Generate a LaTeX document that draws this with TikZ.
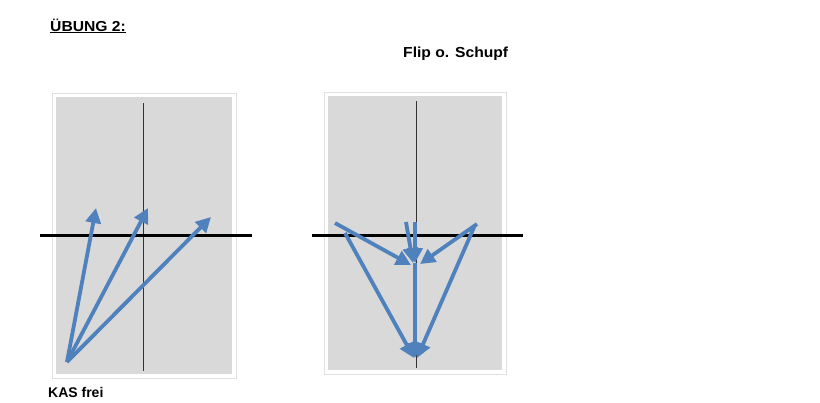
\documentclass[tikz,border=0pt]{standalone}
\usepackage{fontspec}
\setmainfont{Liberation Sans}
\usetikzlibrary{arrows.meta,shadows}
\definecolor{arrowblue}{RGB}{79,129,189}
\definecolor{panelgray}{RGB}{217,217,217}
\tikzset{
  frame/.style={fill=white, draw=black!12, line width=0.6bp, drop shadow={opacity=0.3, shadow xshift=1bp, shadow yshift=-1.2bp}},
  panel/.style={fill=panelgray, draw=none},
  axis/.style={draw=black!80, line width=0.6bp},
  level/.style={draw=black, line width=3bp},
  vec/.style={draw=arrowblue, line width=3.8bp, -{Triangle[length=15bp,width=15bp]}},
  label/.style={font=\bfseries\fontsize{14.5bp}{17bp}\selectfont, anchor=base west, inner sep=0pt}
}
\begin{document}
\begin{tikzpicture}[x=1bp,y=-1bp]
\useasboundingbox (0,0) rectangle (820,402);
% titles
\node[label, xscale=1.08] (title) at (50,31) {\underline{ÜBUNG 2:}};
\node[label, xscale=1.08] (flip) at (403,57) {Flip o. Schupf};
\node[label, font=\bfseries\fontsize{14bp}{17bp}\selectfont] (kas) at (48,397) {KAS frei};
% left panel
\path[frame] (52,93) rectangle (236,378);
\path[panel] (56,97) rectangle (232,374);
\coordinate (lvt) at (143,103); \coordinate (lvb) at (143,371);
\draw[axis] (lvt) -- (lvb);
\coordinate (lhl) at (40,235); \coordinate (lhr) at (252,235);
\draw[level] (lhl) -- (lhr);
\coordinate (lo) at (67,362);
\coordinate (lt1) at (96,208);
\coordinate (lt2) at (148,208);
\coordinate (lt3) at (211,217);
\draw[vec] (lo) -- (lt1);
\draw[vec] (lo) -- (lt2);
\draw[vec] (lo) -- (lt3);
% right panel
\path[frame] (324,92) rectangle (506,374);
\path[panel] (328,96) rectangle (502,370);
\coordinate (rvt) at (416,101); \coordinate (rvb) at (416,368);
\draw[axis] (rvt) -- (rvb);
\coordinate (rhl) at (312,235); \coordinate (rhr) at (523,235);
\draw[level] (rhl) -- (rhr);
\coordinate (rs1) at (335,223);
\coordinate (rs2) at (477,224);
\coordinate (rs3) at (406,222);
\coordinate (rs4) at (415,222);
\coordinate (rs6) at (345,233);
\coordinate (rs7) at (475,225);
\coordinate (rm1) at (411,265);
\coordinate (rm2) at (420,264);
\coordinate (rm3) at (413,263);
\coordinate (rm4) at (415,263);
\coordinate (rb) at (415,358);
\coordinate (rb1) at (414,358);
\coordinate (rb2) at (417,358);
\draw[vec] (rs1) -- (rm1);
\draw[vec] (rs2) -- (rm2);
\draw[vec] (rs3) -- (rm3);
\draw[vec] (rs4) -- (rm4);
\draw[vec] (rm4) -- (rb);
\draw[vec] (rs6) -- (rb1);
\draw[vec] (rs7) -- (rb2);
\end{tikzpicture}
\end{document}
